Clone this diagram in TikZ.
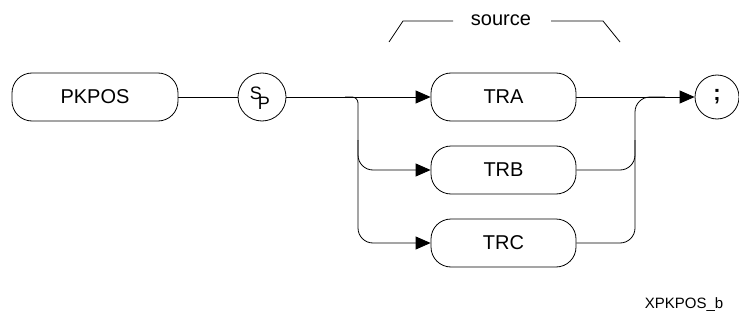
\documentclass[tikz,border=0pt]{standalone}
\usepackage{fontspec}
\setmainfont{Liberation Sans}
\usetikzlibrary{arrows.meta}
\begin{document}
\begin{tikzpicture}[x=1pt,y=-1pt,
  line width=0.8pt,
  kwbox/.style={draw, rounded corners=20pt, minimum height=48pt, inner sep=0pt,
    font=\fontsize{20}{24}\selectfont},
  rnd/.style={draw, circle, minimum size=48pt, inner sep=0pt},
  arr/.style={-{Triangle[length=15pt,width=13pt]}},
  lbl/.style={inner sep=0pt, font=\fontsize{20}{24}\selectfont}]
\useasboundingbox (0,0) rectangle (739,321);
% keyword boxes
\node[kwbox, minimum width=166pt] (pkpos) at (95,97) {PKPOS};
\node[rnd] (sp) at (262,97) {};
\node[inner sep=0pt, font=\fontsize{18}{20}\selectfont] (sps) at (256,93) {S};
\node[inner sep=0pt, font=\fontsize{18}{20}\selectfont] (spp) at (264,103) {P};
\node[kwbox, minimum width=145pt] (tra) at (503.5,97) {TRA};
\node[kwbox, minimum width=145pt] (trb) at (503.5,170) {TRB};
\node[kwbox, minimum width=145pt] (trc) at (503.5,243) {TRC};
\node[draw, circle, minimum size=44pt, inner sep=0pt,
  font=\fontsize{22}{24}\selectfont\bfseries] (semi) at (717,97) {;};
% branch points
\coordinate (lsplit) at (345,97);
\coordinate (lvert) at (358,140);
\coordinate (rvert) at (635,140);
\coordinate (rjoin) at (665,97);
% connectors
\draw (pkpos.east) -- (sp.west);
\draw[arr] (sp.east) -- (tra.west);
\draw[rounded corners=6pt] (lsplit) -| (lvert);
\draw[arr, rounded corners=15pt] (lvert) |- (trb.west);
\draw[arr, rounded corners=15pt] (lvert) |- (trc.west);
\draw[arr] (tra.east) -- (semi.west);
\draw[rounded corners=15pt] (trb.east) -| (rvert);
\draw[rounded corners=15pt] (trc.east) -| (rvert) |- (rjoin);
% source bracket
\node[lbl, anchor=base] (src) at (501,26) {source};
\draw (389,42) -- (403,21) -- (453,21);
\draw (551,21) -- (603,21) -- (620,42);
% figure id
\node[inner sep=0pt, anchor=base, font=\fontsize{15}{18}\selectfont] (fid) at (684,308) {XPKPOS\_b};
\end{tikzpicture}
\end{document}
